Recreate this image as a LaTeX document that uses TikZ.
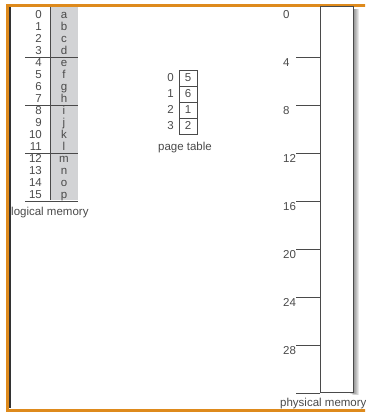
\documentclass[tikz,border=0pt]{standalone}
\usepackage{fontspec}
\setmainfont{Liberation Sans}
\usepackage{tikz}

\definecolor{frameorange}{HTML}{DE8A1C}
\definecolor{cellgray}{HTML}{D2D3D5}
\definecolor{inkgray}{HTML}{4A4A4A}

\begin{document}
\begin{tikzpicture}[x=1pt, y=-1pt,
  every node/.style={font=\fontsize{11.5}{13}\selectfont, text=inkgray, inner sep=0pt,
    text height=8.3pt, text depth=2.3pt},
  rule/.style={inkgray, line width=0.8pt}]
\pgfmathsetmacro{\rh}{12}    % row height, logical memory
\pgfmathsetmacro{\ph}{16}    % row height, page table
\pgfmathsetmacro{\fh}{48}    % frame height, physical memory

% Drawing window
\useasboundingbox (0,0) rectangle (365,413);
\clip (0,0) rectangle (365,413);

% Frame
\draw[black!80, line width=1.2pt] (10,7) -- (10,408);
\draw[frameorange, line width=3pt] (366,5) -- (7.5,5) -- (7.5,410) -- (366,410);

% Logical memory
\fill[cellgray] (50,6.5) rectangle (78,200);
\draw[rule] (50,6.5) -- (50,200);
\foreach \k in {1,...,4} {
  \draw[rule] (25,{9+4*\k*\rh}) -- (78,{9+4*\k*\rh});
}
\foreach \c [count=\k from 0] in {a,b,c,d,e,f,g,h,i,j,k,l,m,n,o,p} {
  \node[anchor=east] (n\k) at (42,{15+\k*\rh}) {\k};
  \node (c\k) at (64,{15+\k*\rh}) {\c};
}
\node[anchor=west] (lm) at (11,212) {logical memory};

% Page table
\draw[rule] (179,70) rectangle (197,134);
\foreach \k in {1,2,3} {
  \draw[rule] (179,{70+\k*\ph}) -- (197,{70+\k*\ph});
}
\foreach \v [count=\k from 0] in {5,6,1,2} {
  \node[anchor=east] (p\k) at (174,{78+\k*\ph}) {\k};
  \node (f\k) at (188,{78+\k*\ph}) {\v};
}
\node (pt) at (185,147) {page table};

% Physical memory (soft shadow, then the box)
\foreach \s in {1,...,6} {
  \fill[black, opacity=0.09] ({353+\s-6},{9}) rectangle ({353+\s},{392+\s/2});
}
\draw[rule, fill=white] (320,6.5) rectangle (353,392);
\foreach \k in {0,...,7} {
  \pgfmathtruncatemacro{\a}{4*\k}
  \draw[rule] (296,{57+\k*\fh}) -- (320,{57+\k*\fh});
  \node[anchor=west] (m\k) at (283,{15+\k*\fh}) {\a};
}
\node[anchor=west] (pm) at (280,403) {physical memory};

\end{tikzpicture}
\end{document}
